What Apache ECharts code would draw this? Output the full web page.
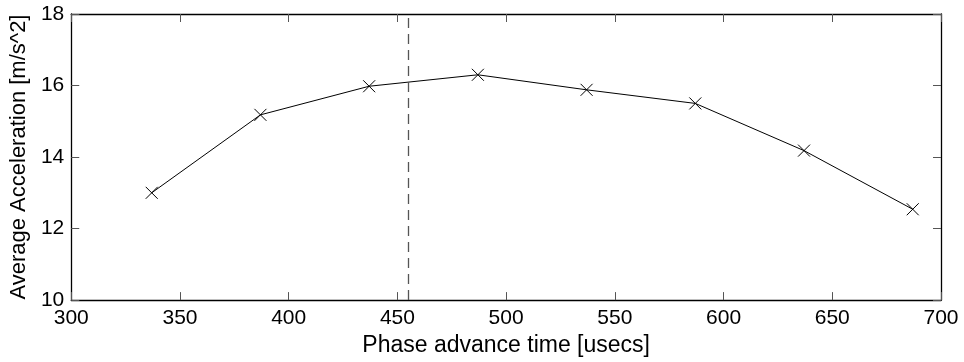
<!DOCTYPE html>
<html>
<head>
<meta charset="utf-8">
<script src="https://cdn.jsdelivr.net/npm/echarts@6/dist/echarts.min.js"></script>
<style>
  html, body { margin: 0; padding: 0; background: #fff; }
  #chart { width: 964px; height: 362px; }
</style>
</head>
<body>
<div id="chart"></div>
<script>
// phase advance time (usecs) vs average acceleration (m/s^2)
const phaseTimes = [337, 387, 437, 487, 537, 587, 637, 687];
const avgAccel = [13.0, 15.18, 15.98, 16.3, 15.88, 15.5, 14.18, 12.54];
const markerTime = 455;

const chartDom = document.getElementById('chart');
const chart = echarts.init(chartDom);

const font = 'Liberation Sans, Arial, sans-serif';
const crossSymbol = 'path://M0,0L10,10M10,0L0,10';

const frameAxis = {
    type: 'value',
    axisLine: { show: true, lineStyle: { color: '#000', width: 1.3 } },
    axisTick: { show: true, inside: true, length: 8, lineStyle: { color: '#555', width: 1 } },
    splitLine: { show: false }
};

const option = {
    animation: false,
    backgroundColor: '#fff',
    grid: { left: 71, right: 23, top: 14, bottom: 59 },
    xAxis: [
        {
            ...frameAxis,
            min: 300, max: 700, interval: 50,
            position: 'bottom',
            name: 'Phase advance time [usecs]',
            nameLocation: 'middle',
            nameGap: 32,
            nameTextStyle: { color: '#000', fontSize: 23, fontFamily: font },
            axisLabel: { color: '#000', fontSize: 21, fontFamily: font, margin: 8 }
        },
        {
            ...frameAxis,
            min: 300, max: 700, interval: 50,
            position: 'top',
            axisLabel: { show: false }
        }
    ],
    yAxis: [
        {
            ...frameAxis,
            min: 10, max: 18, interval: 2,
            position: 'left',
            name: 'Average Acceleration [m/s^2]',
            nameLocation: 'middle',
            nameGap: 33,
            nameTextStyle: { color: '#000', fontSize: 22, fontFamily: font },
            axisLabel: { color: '#000', fontSize: 21, fontFamily: font, margin: 7 }
        },
        {
            ...frameAxis,
            min: 10, max: 18, interval: 2,
            position: 'right',
            axisLabel: { show: false }
        }
    ],
    series: [
        {
            type: 'line',
            data: phaseTimes.map((t, i) => [t, avgAccel[i]]),
            symbol: crossSymbol,
            symbolSize: 12,
            lineStyle: { color: '#000', width: 1 },
            itemStyle: { color: 'rgba(0,0,0,0)', borderColor: '#000', borderWidth: 1 },
            markLine: {
                silent: true,
                symbol: ['none', 'none'],
                label: { show: false },
                lineStyle: { color: '#555', type: [10, 6], width: 1.3 },
                data: [{ xAxis: markerTime }]
            }
        }
    ]
};

option && chart.setOption(option);
</script>
</body>
</html>
